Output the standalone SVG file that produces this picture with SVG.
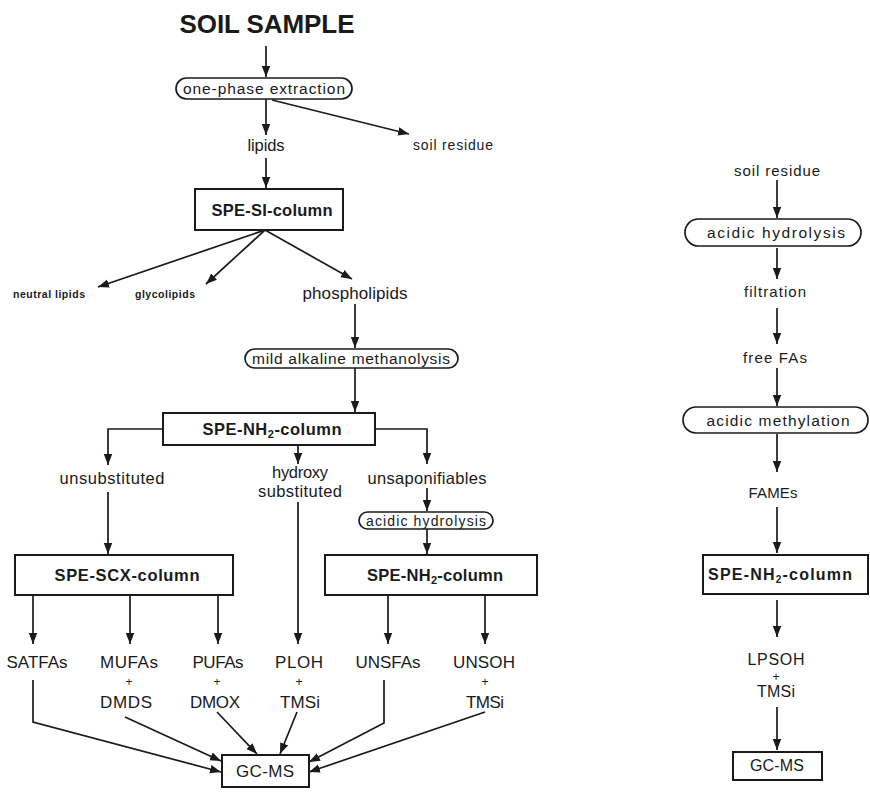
<svg xmlns="http://www.w3.org/2000/svg" width="870" height="793" viewBox="0 0 870 793">
<defs>
<marker id="ah" markerUnits="userSpaceOnUse" markerWidth="11" markerHeight="10" viewBox="0 0 11 10" refX="11" refY="5" orient="auto">
<path d="M0,0.8 L11,5 L0,9.2 Z" fill="#1a1a1a"/>
</marker>
<style>
.t{font-family:"Liberation Sans",Arial,sans-serif;fill:#1a1a1a;text-anchor:middle}
.lb{font-size:16.5px}
.bl{font-size:17px}
.sm{font-size:15px}
.pl{font-size:15.5px}
.pm{font-size:12px}
.xs{font-size:10.5px;font-weight:bold}
.bx{font-size:16.5px;font-weight:bold}
.box{fill:#fff;stroke:#1a1a1a;stroke-width:2}
.pill{fill:#fff;stroke:#1a1a1a;stroke-width:1.7}
.c{fill:none;stroke:#1a1a1a;stroke-width:1.7}
.a{marker-end:url(#ah)}
</style>
</defs>
<rect width="870" height="793" fill="#fff"/>

<g id="connectors">
<path class="c a" d="M266,46 V77"/>
<path class="c a" d="M266,99 V135"/>
<path class="c a" d="M272,100 L409,134"/>
<path class="c a" d="M266,158 V188"/>
<path class="c a" d="M265,230 L98,287"/>
<path class="c a" d="M265,230 L206,284"/>
<path class="c a" d="M265,230 L352,279"/>
<path class="c a" d="M355,304 V348"/>
<path class="c a" d="M355,368 V412"/>
<path class="c a" d="M163,429 H108 V465"/>
<path class="c a" d="M298,445 V464"/>
<path class="c a" d="M375,429 H427 V464"/>
<path class="c a" d="M108,492 V554"/>
<path class="c a" d="M298,502 V644"/>
<path class="c a" d="M427,488 V511"/>
<path class="c a" d="M427,529 V554"/>
<path class="c a" d="M33,595 V644"/>
<path class="c a" d="M130,595 V644"/>
<path class="c a" d="M218,595 V644"/>
<path class="c a" d="M388,595 V644"/>
<path class="c a" d="M485,595 V644"/>
<path class="c a" d="M33,680 V722 L221,772"/>
<path class="c a" d="M125,717 L221,761"/>
<path class="c a" d="M217,712 L257,754"/>
<path class="c a" d="M297,712 L280,754"/>
<path class="c a" d="M384,680 V723 L309,762"/>
<path class="c a" d="M485,712 L309,772"/>
<path class="c a" d="M777,180 V218"/>
<path class="c a" d="M777,248 V279"/>
<path class="c a" d="M777,308 V344"/>
<path class="c a" d="M777,368 V406"/>
<path class="c a" d="M777,434 V472"/>
<path class="c a" d="M777,507 V553"/>
<path class="c a" d="M777,600 V637"/>
<path class="c a" d="M777,707 V750"/>
</g>

<g id="soil-sample"><text class="t" x="267" y="33" style="font-size:26px;font-weight:bold" textLength="175">SOIL SAMPLE</text></g>
<g id="one-phase-extraction"><rect class="pill" x="176" y="78" width="176" height="21" rx="10.5"/><text class="t pl" x="264" y="94" textLength="162">one-phase extraction</text></g>
<g id="lipids"><text class="t lb" x="266" y="151" textLength="37">lipids</text></g>
<g id="soil-residue-1"><text class="t" x="453" y="150" style="font-size:14px" textLength="80">soil residue</text></g>
<g id="spe-si-column"><rect class="box" x="195" y="189" width="148" height="41"/><text class="t bx" x="272" y="216" textLength="121">SPE-SI-column</text></g>
<g id="neutral-lipids"><text class="t xs" x="49" y="298" textLength="72">neutral lipids</text></g>
<g id="glycolipids"><text class="t xs" x="165" y="298" textLength="60">glycolipids</text></g>
<g id="phospholipids"><text class="t bl" x="355" y="299" textLength="105">phospholipids</text></g>
<g id="mild-alkaline-methanolysis"><rect class="pill" x="245" y="349" width="213" height="19" rx="9.5"/><text class="t pl" x="351" y="364" textLength="198">mild alkaline methanolysis</text></g>
<g id="spe-nh2-column-1"><rect class="box" x="163" y="413" width="212" height="32"/><text class="t bx" x="272" y="435" textLength="139">SPE-NH<tspan style="font-size:11px" dy="3">2</tspan><tspan dy="-3">-column</tspan></text></g>
<g id="unsubstituted"><text class="t lb" x="112" y="484" textLength="105">unsubstituted</text></g>
<g id="hydroxy-substituted"><text class="t lb" x="300" y="478" textLength="56">hydroxy</text><text class="t lb" x="300" y="497" textLength="84">substituted</text></g>
<g id="unsaponifiables"><text class="t lb" x="427" y="484" textLength="119">unsaponifiables</text></g>
<g id="acidic-hydrolysis-1"><rect class="pill" x="359" y="512" width="134" height="17" rx="8.5"/><text class="t" x="426" y="525.5" style="font-size:14px" textLength="120">acidic hydrolysis</text></g>
<g id="spe-scx-column"><rect class="box" x="15" y="555" width="218" height="40"/><text class="t bx" x="127" y="581" textLength="145">SPE-SCX-column</text></g>
<g id="spe-nh2-column-2"><rect class="box" x="325" y="555" width="212" height="40"/><text class="t bx" x="435" y="581" textLength="136">SPE-NH<tspan style="font-size:11px" dy="3">2</tspan><tspan dy="-3">-column</tspan></text></g>
<g id="satfas"><text class="t bl" x="37" y="668" textLength="61">SATFAs</text></g>
<g id="mufas-dmds"><text class="t bl" x="129" y="668" textLength="58">MUFAs</text><text class="t pm" x="129" y="686">+</text><text class="t bl" x="126" y="708" textLength="52">DMDS</text></g>
<g id="pufas-dmox"><text class="t bl" x="218" y="668" textLength="51">PUFAs</text><text class="t pm" x="217" y="686">+</text><text class="t bl" x="215" y="708" textLength="50">DMOX</text></g>
<g id="ploh-tmsi"><text class="t bl" x="299" y="668" textLength="48">PLOH</text><text class="t pm" x="299" y="686">+</text><text class="t bl" x="300" y="708" textLength="40">TMSi</text></g>
<g id="unsfas"><text class="t bl" x="388" y="668" textLength="65">UNSFAs</text></g>
<g id="unsoh-tmsi"><text class="t bl" x="484" y="668" textLength="62">UNSOH</text><text class="t pm" x="485" y="686">+</text><text class="t bl" x="485" y="708" textLength="38">TMSi</text></g>
<g id="gc-ms-1"><rect class="box" x="222" y="755" width="87" height="32"/><text class="t bl" x="265" y="777" textLength="58">GC-MS</text></g>

<g id="soil-residue-2"><text class="t sm" x="777" y="176" textLength="86">soil residue</text></g>
<g id="acidic-hydrolysis-2"><rect class="pill" x="685" y="219" width="176" height="27" rx="13.5"/><text class="t" x="776" y="238" style="font-size:15.5px" textLength="138">acidic hydrolysis</text></g>
<g id="filtration"><text class="t sm" x="775" y="297" textLength="62">filtration</text></g>
<g id="free-fas"><text class="t sm" x="775" y="363" textLength="64">free FAs</text></g>
<g id="acidic-methylation"><rect class="pill" x="683" y="407" width="185" height="26" rx="13"/><text class="t" x="778" y="425.5" style="font-size:15.5px" textLength="143">acidic methylation</text></g>
<g id="fames"><text class="t sm" x="773" y="498" textLength="49">FAMEs</text></g>
<g id="spe-nh2-column-3"><rect class="box" x="703" y="555" width="165" height="39"/><text class="t" x="780" y="580" style="font-size:16px;font-weight:bold" textLength="144">SPE-NH<tspan style="font-size:10px" dy="3">2</tspan><tspan dy="-3">-column</tspan></text></g>
<g id="lpsoh-tmsi"><text class="t" x="776" y="665" style="font-size:16px" textLength="57">LPSOH</text><text class="t pm" x="776" y="681">+</text><text class="t" x="776" y="697" style="font-size:16px" textLength="38">TMSi</text></g>
<g id="gc-ms-2"><rect class="box" x="733" y="752" width="89" height="28"/><text class="t" x="777" y="771" style="font-size:16px" textLength="54">GC-MS</text></g>
</svg>
